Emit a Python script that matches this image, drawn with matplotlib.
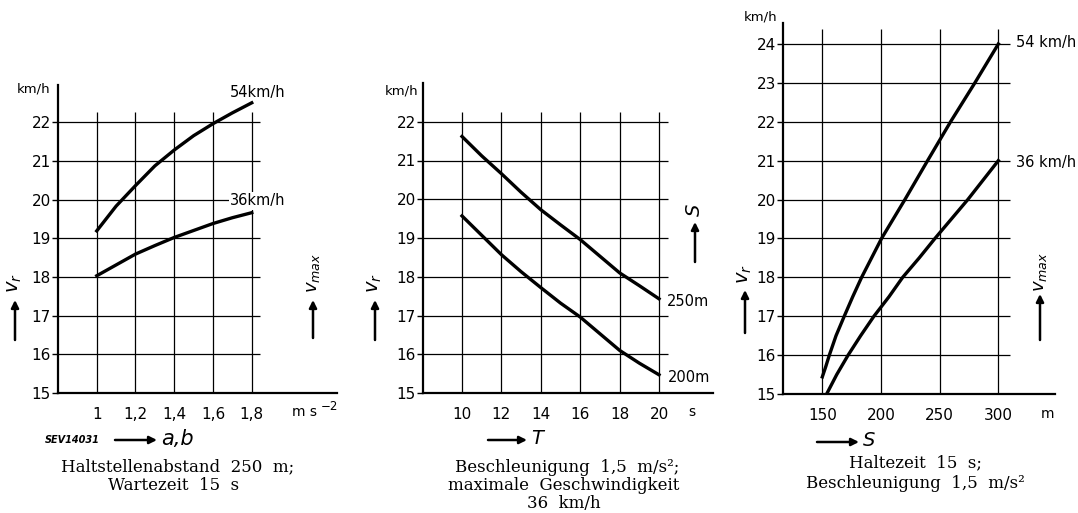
import matplotlib
matplotlib.use('Agg')
import matplotlib.pyplot as plt

W, H = 1078, 513

###### DATA ##########
# panel 1: v_r over acceleration a,b
accel = [1.0, 1.1, 1.2, 1.3, 1.4, 1.5, 1.6, 1.7, 1.8]
vr_acc_54 = [19.19, 19.83, 20.36, 20.87, 21.28, 21.65, 21.96, 22.24, 22.5]
vr_acc_36 = [18.03, 18.31, 18.59, 18.81, 19.02, 19.2, 19.38, 19.53, 19.66]
acc_ticks = [1.0, 1.2, 1.4, 1.6, 1.8]
acc_labels = ['1', '1,2', '1,4', '1,6', '1,8']
vr_ticks_1 = [15, 16, 17, 18, 19, 20, 21, 22]

# panel 2: v_r over stop time T
halt = [10, 11, 12, 13, 14, 15, 16, 17, 18, 19, 20]
vr_halt_250 = [21.62, 21.12, 20.66, 20.18, 19.73, 19.34, 18.96, 18.53, 18.1, 17.77, 17.43]
vr_halt_200 = [19.57, 19.07, 18.57, 18.13, 17.72, 17.32, 16.96, 16.53, 16.1, 15.77, 15.47]
halt_ticks = [10, 12, 14, 16, 18, 20]

# panel 3: v_r over stop distance S
dist_54 = [150, 152.9, 156, 161.7, 168.7, 175.9, 183.5, 200.5, 220.4, 239.7, 259.3, 280, 300]
vr_dist_54 = [15.44, 15.7, 16, 16.5, 17, 17.5, 18, 19, 20, 21, 22, 23, 24]
dist_36 = [153.7, 162.3, 172, 182.7, 194, 206.8, 218.5, 232.6, 246, 274, 300]
vr_dist_36 = [15, 15.5, 16, 16.5, 17, 17.5, 18, 18.5, 19, 20, 21]
dist_ticks = [150, 200, 250, 300]
vr_ticks_3 = [15, 16, 17, 18, 19, 20, 21, 22, 23, 24]
########################

SANS = 'DejaVu Sans'
SERIF = 'DejaVu Serif'


def box(l, r, top, bottom):
    return [l / W, 1 - bottom / H, (r - l) / W, (bottom - top) / H]


def ftext(x, y, s, **kw):
    kw.setdefault('ha', 'center')
    kw.setdefault('va', 'center')
    kw.setdefault('family', SANS)
    fig.text(x / W, 1 - y / H, s, **kw)


def arrow(ax, x0, y0, x1, y1, lw=1.8):
    ax.annotate('', xy=(x1 / W, 1 - y1 / H), xytext=(x0 / W, 1 - y0 / H),
                xycoords='figure fraction', textcoords='figure fraction',
                annotation_clip=False,
                arrowprops=dict(arrowstyle='-|>', lw=lw, color='k',
                                mutation_scale=11, shrinkA=0, shrinkB=0))


def setup(ax, xlim, ylim, xticks, xlabels, yticks, gx, gy):
    ax.set_xlim(*xlim)
    ax.set_ylim(*ylim)
    for s in ['top', 'right']:
        ax.spines[s].set_visible(False)
    for s in ['left', 'bottom']:
        ax.spines[s].set_linewidth(1.6)
    ax.hlines(yticks[1:], xlim[0], gx, color='k', lw=0.9, zorder=1)
    ax.vlines(xticks, ylim[0], gy, color='k', lw=0.9, zorder=1)
    ax.set_xticks(xticks)
    ax.set_xticklabels(xlabels, family=SANS, fontsize=11)
    ax.set_yticks(yticks)
    ax.set_yticklabels([str(v) for v in yticks], family=SANS, fontsize=11)
    ax.tick_params(axis='x', length=0, pad=10)
    ax.tick_params(axis='y', length=4, width=1, pad=1)
    ax.patch.set_alpha(0)


fig = plt.figure(figsize=(W / 100, H / 100), dpi=100)

# ---------- panel 1 ----------
ax1 = fig.add_axes(box(58, 337, 85, 393))
setup(ax1, (0.8, 2.24), (15, 22.96), acc_ticks, acc_labels, vr_ticks_1, 1.843, 22.26)
ax1.plot(accel, vr_acc_54, color='k', lw=2.4, zorder=3, solid_joinstyle='round')
ax1.plot(accel, vr_acc_36, color='k', lw=2.4, zorder=3, solid_joinstyle='round')
ftext(258, 92, '54km/h', fontsize=10.5)
ftext(258, 201, '36km/h', fontsize=10.5,
      bbox=dict(facecolor='white', edgecolor='none', pad=1))
ftext(34, 89, 'km/h', fontsize=9.5)
ftext(304, 412, 'm s', fontsize=10)
ftext(329, 406, '\u22122', fontsize=8.5)
ftext(15, 283, r'$v_r$', fontsize=14, rotation=90)
arrow(ax1, 15, 340, 15, 300)
ftext(313, 273, r'$v_{max}$', fontsize=13, rotation=90)
arrow(ax1, 313, 338, 313, 300)
ftext(72, 440, 'SEV14031', fontsize=7, style='italic', weight='bold')
arrow(ax1, 115, 440, 157, 440)
ftext(177, 439, 'a,b', fontsize=15, style='italic')
ftext(178, 467, 'Haltstellenabstand  250  m;', fontsize=12, family=SERIF)
ftext(174, 486, 'Wartezeit  15  s', fontsize=12, family=SERIF)

# ---------- panel 2 ----------
ax2 = fig.add_axes(box(423, 713, 83, 393))
setup(ax2, (8.02, 22.74), (15, 23.0), halt_ticks, [str(v) for v in halt_ticks],
      vr_ticks_1, 20.44, 22.26)
ax2.plot(halt, vr_halt_250, color='k', lw=2.4, zorder=3, solid_joinstyle='round')
ax2.plot(halt, vr_halt_200, color='k', lw=2.4, zorder=3, solid_joinstyle='round')
ftext(688, 301, '250m', fontsize=10.5)
ftext(689, 377, '200m', fontsize=10.5)
ftext(402, 91, 'km/h', fontsize=9.5)
ftext(692, 412, 's', fontsize=10)
ftext(375, 283, r'$v_r$', fontsize=14, rotation=90)
arrow(ax2, 375, 340, 375, 300)
ftext(695, 210, r'$S$', fontsize=14, rotation=90)
arrow(ax2, 695, 262, 695, 222)
arrow(ax2, 488, 440, 527, 440)
ftext(537, 439, 'T', fontsize=14, style='italic')
ftext(567, 467, 'Beschleunigung  1,5  m/s\u00b2;', fontsize=12, family=SERIF)
ftext(564, 486, 'maximale  Geschwindigkeit', fontsize=12, family=SERIF)
ftext(564, 504, '36  km/h', fontsize=12, family=SERIF)

# ---------- panel 3 ----------
ax3 = fig.add_axes(box(783, 1055, 23, 394))
setup(ax3, (116.5, 348.3), (15, 24.54), dist_ticks, [str(v) for v in dist_ticks],
      vr_ticks_3, 310.3, 24.38)
ax3.plot(dist_54, vr_dist_54, color='k', lw=2.4, zorder=3, solid_joinstyle='round')
ax3.plot(dist_36, vr_dist_36, color='k', lw=2.4, zorder=3, solid_joinstyle='round')
ftext(1046, 43, '54 km/h', fontsize=10.5)
ftext(1046, 162, '36 km/h', fontsize=10.5)
ftext(761, 17, 'km/h', fontsize=9.5)
ftext(1047, 414, 'm', fontsize=10)
ftext(745, 274, r'$v_r$', fontsize=14, rotation=90)
arrow(ax3, 745, 333, 745, 290)
ftext(1040, 272, r'$v_{max}$', fontsize=13, rotation=90)
arrow(ax3, 1040, 340, 1040, 294)
arrow(ax3, 817, 442, 859, 442)
ftext(869, 441, 'S', fontsize=14, style='italic')
ftext(915, 463, 'Haltezeit  15  s;', fontsize=12, family=SERIF)
ftext(915, 484, 'Beschleunigung  1,5  m/s\u00b2', fontsize=12, family=SERIF)

fig.savefig('out.png', dpi=100, facecolor='white')
